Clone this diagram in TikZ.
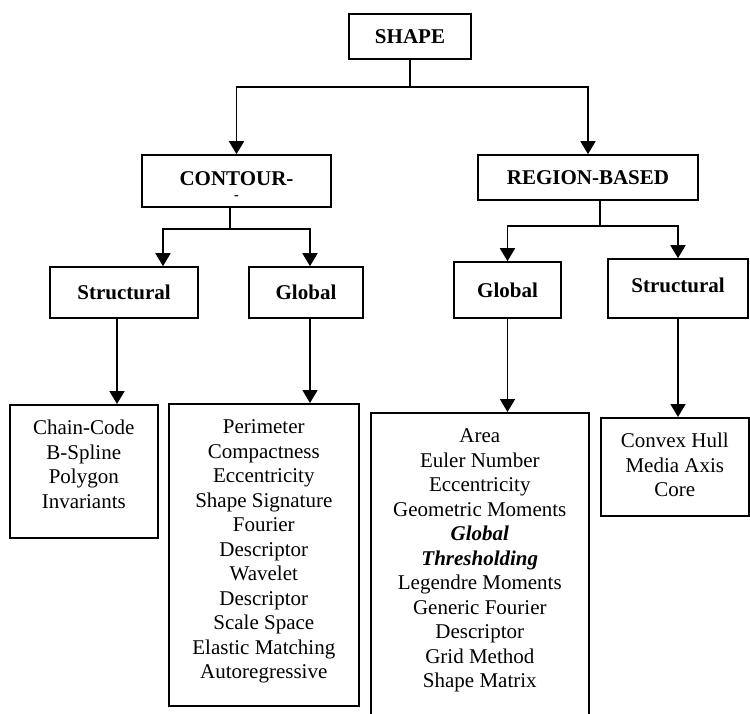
\documentclass[tikz,border=0pt]{standalone}
\usepackage{fontspec}
\setmainfont{Liberation Serif}
\usepackage{tikz}
\usetikzlibrary{arrows.meta,positioning,calc}
\newcommand{\boxlines}[3]{\parbox[t][#2][t]{#1}{\centering\strut #3}}
\tikzset{
  frame/.style={draw,line width=1.6pt},
  catbox/.style={frame,font=\fontsize{21}{24.5}\selectfont\bfseries,inner sep=0pt,align=center},
  listbox/.style={frame,font=\fontsize{21}{24.5}\selectfont,inner xsep=0pt,inner ysep=13pt,anchor=north west},
  arr/.style={line width=1.8pt,-{Triangle[length=13pt,width=15pt]}},
  link/.style={line width=1.8pt},
}
\begin{document}
\begin{tikzpicture}[x=1pt,y=-1pt]
        \useasboundingbox (0,0) rectangle (750,713);
        \clip (0,0) rectangle (750,713);
        % kopfknoten
        \node[catbox,minimum width=122pt,minimum height=45pt] (shape) at (410,36.5) {SHAPE};
        \node[catbox,minimum width=189pt,minimum height=52pt,text height=9pt,text depth=0pt] (contour) at (236.5,181)
          {\begin{tabular}[t]{@{}c@{}}CONTOUR-\\[-10.5pt]{\fontsize{14}{14}\selectfont -}\end{tabular}};
        \node[catbox,minimum width=220pt,minimum height=45pt] (region) at (588,177.5) {REGION-BASED};
        \node[catbox,minimum width=148pt,minimum height=51pt] (cstruct) at (124,292.5) {Structural};
        \node[catbox,minimum width=114pt,minimum height=51pt] (cglobal) at (306,292.5) {Global};
        \node[catbox,minimum width=107pt,minimum height=56pt] (rglobal) at (507.5,290) {Global};
        \node[catbox,minimum width=140pt,minimum height=59pt,text height=8pt,text depth=0pt] (rstruct) at (678,288.5) {Structural};
        % listen
        \node[listbox] (chain) at (9,404) {\boxlines{148pt}{107pt}{Chain-Code\\B-Spline\\Polygon\\Invariants}};
        \node[listbox] (perim) at (168,403) {\boxlines{190pt}{276pt}{Perimeter\\Compactness\\Eccentricity\\Shape Signature\\Fourier\\Descriptor\\Wavelet\\Descriptor\\Scale Space\\Elastic Matching\\Autoregressive}};
        \node[listbox] (area) at (370,412) {\boxlines{218pt}{320pt}{Area\\Euler Number\\Eccentricity\\Geometric Moments\\\textbf{\textit{Global}}\\\textbf{\textit{Thresholding}}\\Legendre Moments\\Generic Fourier\\Descriptor\\Grid Method\\Shape Matrix}};
        \node[listbox] (convex) at (600,417) {\boxlines{148pt}{72pt}{Convex Hull\\Media Axis\\Core}};
        % verbindungen
        \coordinate (topj) at (410,87);
        \draw[link] (shape.south) -- (topj);
        \draw[arr] (topj) -| (contour.north);
        \draw[arr] (topj) -| (region.north);
        \coordinate (cj) at (230,229);
        \draw[link] (contour.south -| cj) -- (cj);
        \draw[arr] (cj) -| ([xshift=39pt]cstruct.north);
        \draw[arr] (cj) -| ([xshift=4pt]cglobal.north);
        \coordinate (rj) at (600,226);
        \draw[link] (region.south -| rj) -- (rj);
        \draw[arr] (rj) -| (rglobal.north);
        \draw[arr] (rj) -| (rstruct.north);
        \coordinate (cs1) at ([xshift=-7pt]cstruct.south);
        \coordinate (cg1) at ([xshift=4pt]cglobal.south);
        \draw[arr] (cs1) -- (cs1 |- chain.north);
        \draw[arr] (cg1) -- (cg1 |- perim.north);
        \draw[arr] (rglobal.south) -- (rglobal.south |- area.north);
        \draw[arr] (rstruct.south) -- (rstruct.south |- convex.north);
\end{tikzpicture}
\end{document}
